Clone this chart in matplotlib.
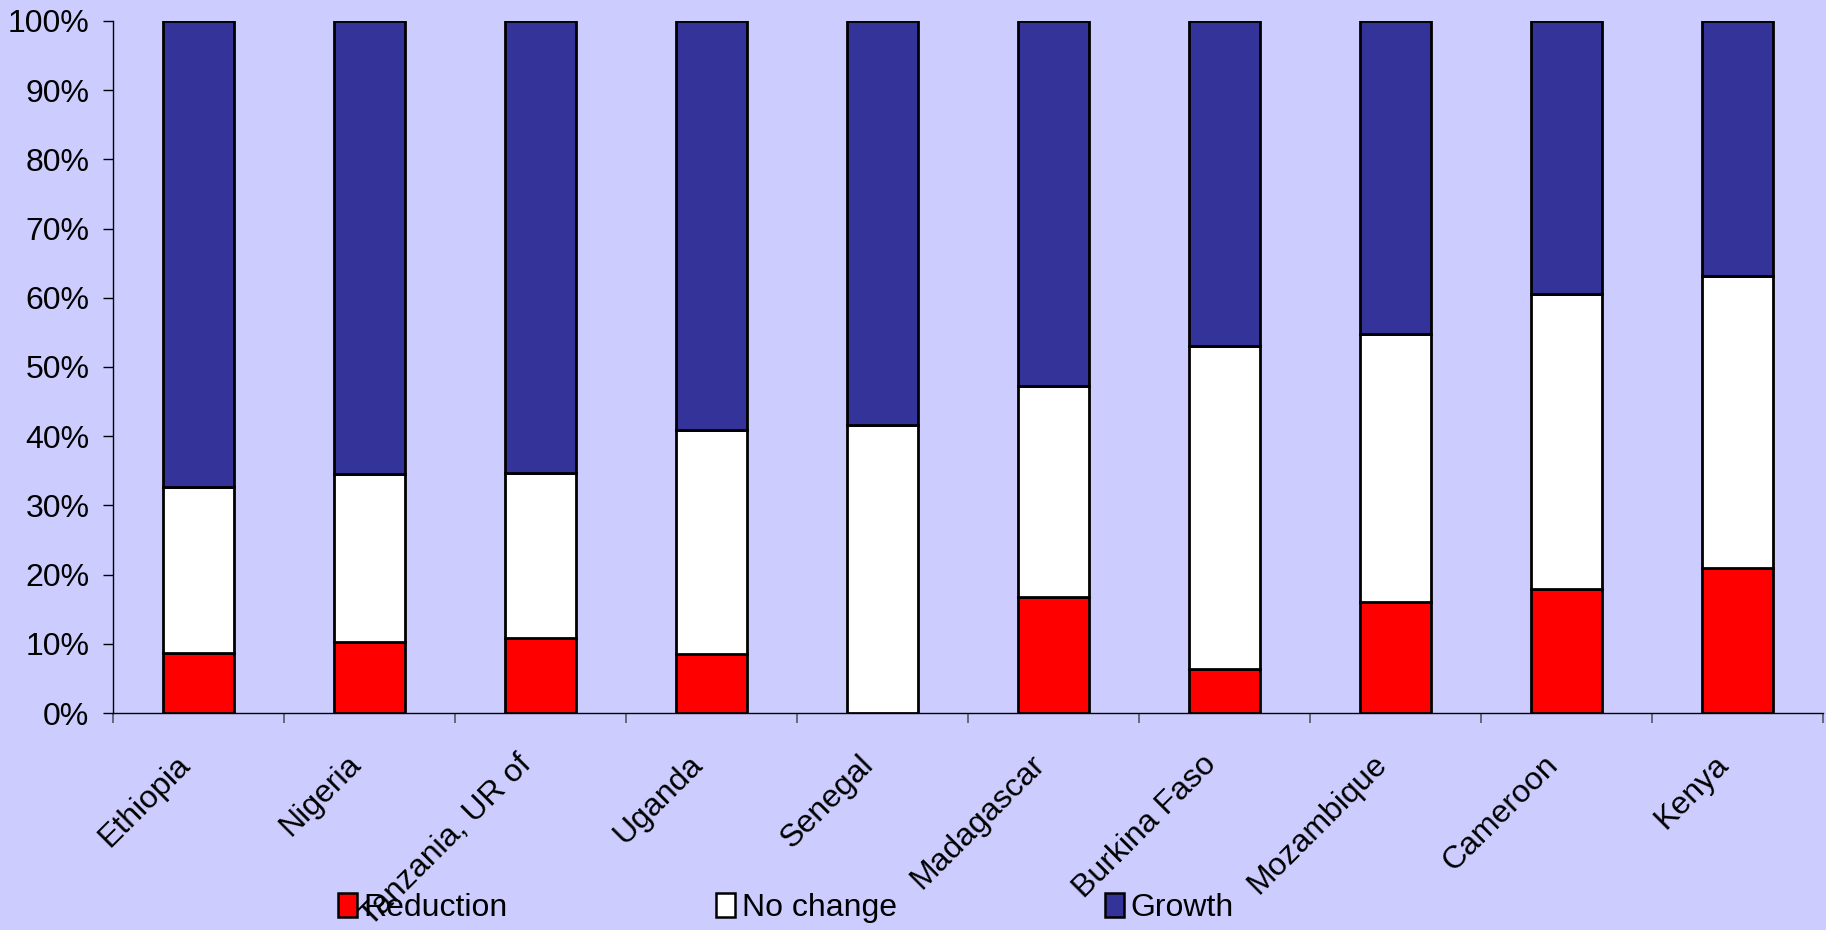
import matplotlib
matplotlib.use('Agg')
import numpy as np
from matplotlib import pyplot as plt
from matplotlib.patches import Patch
from matplotlib.transforms import ScaledTranslation

countries = ['Ethiopia', 'Nigeria', 'Tanzania, UR of', 'Uganda', 'Senegal',
             'Madagascar', 'Burkina Faso', 'Mozambique', 'Cameroon', 'Kenya']
reduction = [8.6, 10.2, 10.8, 8.5, 0.0, 16.7, 6.3, 16.1, 17.9, 21.0]
no_change = [24.0, 24.3, 23.9, 32.4, 41.6, 30.6, 46.7, 38.6, 42.7, 42.2]
growth = [67.4, 65.5, 65.3, 59.1, 58.4, 52.7, 47.0, 45.3, 39.4, 36.8]

bg = '#CCCCFF'
plt.rcParams['font.family'] = ['Liberation Sans', 'DejaVu Sans']
fs = 23

fig = plt.figure(figsize=(18.26, 9.30), dpi=100, facecolor=bg)
ax = fig.add_axes([113 / 1826, 1 - 713 / 930, 1710 / 1826, 692 / 930])
ax.set_facecolor(bg)

x = np.arange(len(countries))
w = 0.41
red = np.array(reduction)
white = np.array(no_change)
blue = np.array(growth)
ax.bar(x, red, w, color='#FF0000', edgecolor='black', linewidth=2.0, zorder=3)
ax.bar(x, white, w, bottom=red, color='white', edgecolor='black', linewidth=2.0, zorder=3)
ax.bar(x, blue, w, bottom=red + white, color='#333399', edgecolor='black', linewidth=2.0, zorder=3)

ax.set_xlim(-0.5, len(countries) - 0.5)
ax.set_ylim(0, 100)
ax.set_yticks(np.arange(0, 101, 10))
ax.set_yticklabels([f'{v}%' for v in range(0, 101, 10)], fontsize=fs)
ax.tick_params(axis='y', length=7, width=1, pad=10, color='black')
ax.set_xticks(np.arange(-0.5, len(countries), 1.0))
ax.set_xticklabels([])
ax.tick_params(axis='x', length=7, width=1.2, color='#555566')

for s in ['top', 'right']:
    ax.spines[s].set_visible(False)
for s in ['left', 'bottom']:
    ax.spines[s].set_linewidth(1)
    ax.spines[s].set_color('black')

off = ScaledTranslation(-0.13, -0.47, fig.dpi_scale_trans)
for i, name in enumerate(countries):
    ax.text(i, 0, name, rotation=45, ha='right', va='center',
            rotation_mode='anchor', fontsize=fs,
            transform=ax.transData + off, clip_on=False)

handles = [Patch(facecolor='#FF0000', edgecolor='black', linewidth=1.8),
           Patch(facecolor='white', edgecolor='black', linewidth=1.8),
           Patch(facecolor='#333399', edgecolor='black', linewidth=1.8)]
fig.legend(handles, ['Reduction', 'No change', 'Growth'], ncol=3,
           loc='center left', bbox_to_anchor=(338 / 1826, 1 - 908 / 930),
           frameon=False, fontsize=fs, borderpad=0, borderaxespad=0,
           handlelength=0.6, handleheight=0.75, handletextpad=0.2,
           columnspacing=6.52)

fig.savefig('out.png', dpi=100, facecolor=bg)
